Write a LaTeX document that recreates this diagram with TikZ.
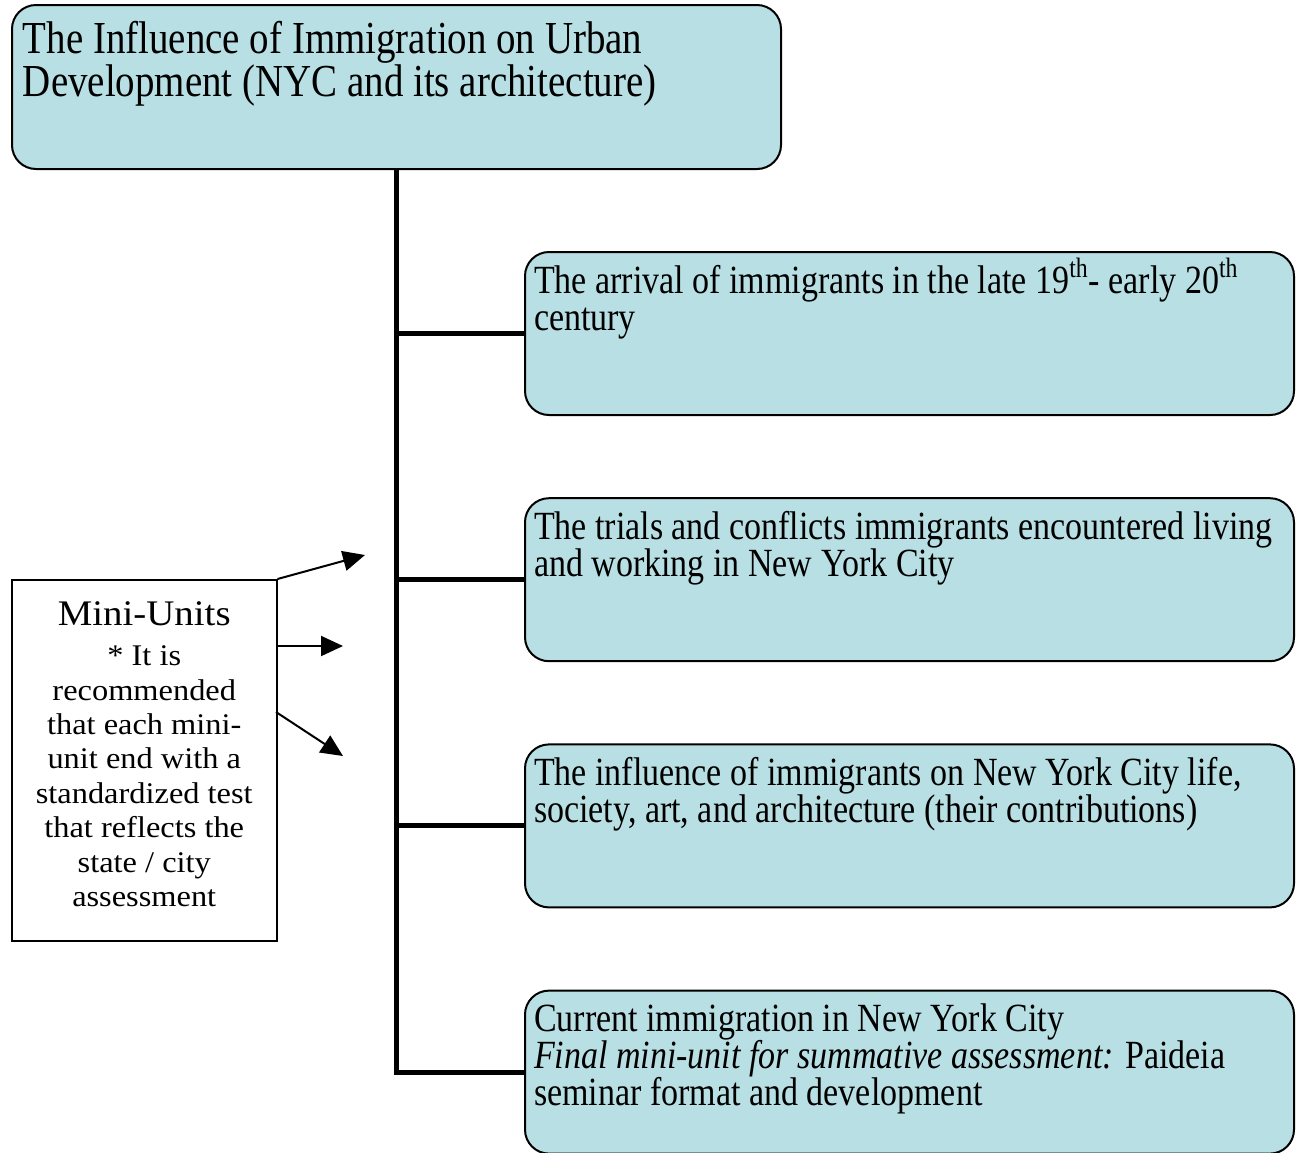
\documentclass[tikz,border=0pt]{standalone}
\usepackage{fontspec}
\setmainfont{Liberation Serif}
\newfontfamily\boxfont{Liberation Serif}[FakeStretch=0.85]
\newfontfamily\notefont{Liberation Serif}[FakeStretch=1.08]
\usetikzlibrary{arrows.meta,positioning}
\definecolor{unitblue}{RGB}{184,223,227}
\newcommand{\unittext}[1]{\parbox[b][81.5pt][t]{375.5pt}{\boxfont\fontsize{20}{18.5}\selectfont\rule{0pt}{20.5pt}#1}}

\begin{document}
\begin{tikzpicture}[x=0.5pt,y=-0.5pt,
  topicbox/.style={draw,line width=1pt,fill=unitblue,rounded corners=12pt,inner xsep=5.5pt,inner ysep=0pt,anchor=north west},
  unitbox/.style={draw,line width=1pt,fill=unitblue,rounded corners=12pt,inner xsep=4.5pt,inner ysep=0pt,anchor=north west},
  notebox/.style={draw,line width=0.75pt,fill=white,inner sep=0pt,anchor=north west},
  trunk/.style={line width=2.5pt},
  pointer/.style={line width=1pt,-{Triangle[length=11pt,width=10pt]}}]
  \useasboundingbox (0,0) rectangle (1296,1152);

  \node[topicbox] (topic) at (11,4)
    {\parbox[b][82pt][t]{373.5pt}{\boxfont\fontsize{22.9}{21.5}\selectfont\rule{0pt}{24pt}The Influence of Immigration on Urban\\Development (NYC and its architecture)}};
  \node[unitbox]  (arrival)   at (524,251)
    {\unittext{The arrival of immigrants in the late 19\textsuperscript{th}- early 20\textsuperscript{th}\\century}};
  \node[unitbox]  (trials)    [below=40.6pt of arrival]
    {\unittext{The trials and conflicts immigrants encountered living\\and working in New York City}};
  \node[unitbox]  (influence) [below=40.6pt of trials]
    {\unittext{The influence of immigrants on New York City life,\\society, art, and architecture (their contributions)}};
  \node[unitbox]  (current)   [below=40.6pt of influence]
    {\unittext{Current immigration in New York City\\\textit{Final mini-unit for summative assessment:} Paideia\\seminar format and development}};
  \node[notebox]  (mini) at (11,579)
    {\parbox[b][180.5pt][t]{132.5pt}{\centering\notefont
      \fontsize{18}{20}\selectfont\rule{0pt}{23pt}Mini-Units\par
      \fontsize{15}{17.2}\selectfont\vspace{2.8pt}* It is\\recommended\\that each mini-\\unit end with a\\standardized test\\that reflects the\\state / city\\assessment\par}};

  \draw[trunk] (topic.south) |- (current.west);
  \foreach \u in {arrival,trials,influence}
    \draw[trunk] (topic.south |- \u.west) -- (\u.west);

  \coordinate (aim1)  at (365,555);
  \coordinate (aim2)  at (343,646);
  \coordinate (aim3)  at (343,756);
  \coordinate (tail3) at (276,712);
  \path (mini.north east)  edge[pointer] (aim1)
        (mini.east |- aim2) edge[pointer] (aim2)
        (tail3)             edge[pointer] (aim3);
\end{tikzpicture}
\end{document}
